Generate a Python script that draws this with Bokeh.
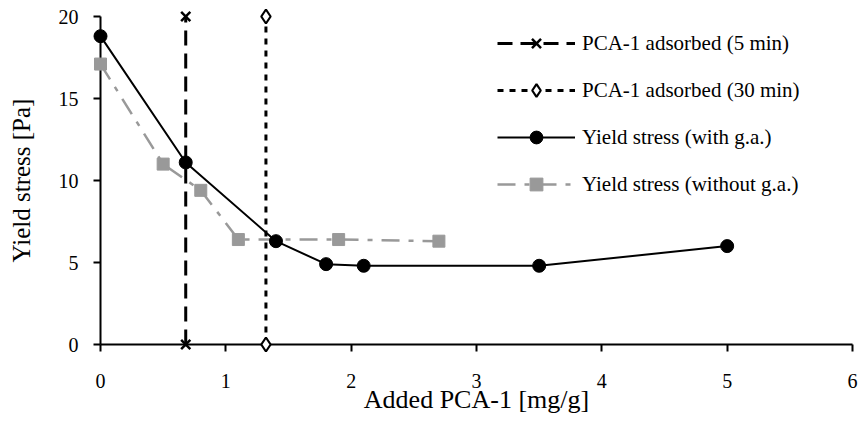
from bokeh.plotting import figure
from bokeh.models import Range1d, FixedTicker, Legend, LegendItem
from bokeh.embed import file_html
from bokeh.resources import INLINE

# ---- data ----
x_with = [0.0, 0.68, 1.4, 1.8, 2.1, 3.5, 5.0]
y_with = [18.8, 11.1, 6.3, 4.9, 4.8, 4.8, 6.0]
x_without = [0.0, 0.5, 0.8, 1.1, 1.9, 2.7]
y_without = [17.1, 11.0, 9.4, 6.4, 6.4, 6.3]
ads5_x = [0.68, 0.68]
ads5_y = [0.0, 20.0]
ads30_x = [1.32, 1.32]
ads30_y = [0.0, 20.0]
x_ticks = [0, 1, 2, 3, 4, 5, 6]
y_ticks = [0, 5, 10, 15, 20]
series_labels = ["PCA-1 adsorbed (5 min)", "PCA-1 adsorbed (30 min)",
                 "Yield stress (with g.a.)", "Yield stress (without g.a.)"]
x_title = "Added PCA-1 [mg/g]"
y_title = "Yield stress [Pa]"

FONT = "Liberation Serif"
GRAY = "#999999"

p = figure(width=861, height=423, output_backend="svg", toolbar_location=None,
           x_range=Range1d(0, 6), y_range=Range1d(0, 20),
           min_border_left=100, min_border_right=9, min_border_top=16, min_border_bottom=79)
p.outline_line_color = None
p.xgrid.visible = False
p.ygrid.visible = False
p.background_fill_color = "white"
p.border_fill_color = "white"

for ax in (p.xaxis[0], p.yaxis[0]):
    ax.axis_line_width = 2
    ax.axis_line_color = "black"
    ax.major_tick_line_width = 2
    ax.major_tick_line_color = "black"
    ax.major_tick_in = 0
    ax.major_tick_out = 7
    ax.minor_tick_line_color = None
    ax.major_label_text_font = FONT
    ax.major_label_text_font_size = "20px"
    ax.major_label_text_color = "black"
    ax.axis_label_text_font = FONT
    ax.axis_label_text_font_style = "normal"
    ax.axis_label_text_color = "black"

p.xaxis.axis_label_text_font_size = "26px"
p.yaxis.axis_label_text_font_size = "25px"
p.xaxis.ticker = FixedTicker(ticks=x_ticks)
p.yaxis.ticker = FixedTicker(ticks=y_ticks)
p.xaxis.axis_label = x_title
p.yaxis.axis_label = y_title
p.xaxis.major_label_standoff = 22
p.xaxis.axis_label_standoff = -6
p.yaxis.major_label_standoff = 15
p.yaxis.axis_label_standoff = 21

# gray series (without g.a.)
g_line = p.line(x_without, y_without, line_color=GRAY, line_width=2.5,
                line_dash="18 9 5 9", level="overlay")
g_pts = p.scatter(x_without, y_without, marker="square", size=12,
                  fill_color=GRAY, line_color=GRAY, level="overlay")

# vertical adsorption lines
a5_line = p.line(ads5_x, ads5_y, line_color="black", line_width=3,
                 line_dash="15 8", level="overlay")
a5_pts = p.scatter(ads5_x, ads5_y, marker="x", size=13, line_color="black",
                   line_width=2.5, level="overlay")
a30_line = p.line(ads30_x, ads30_y, line_color="black", line_width=3,
                  line_dash="6 6", level="overlay")
a30_pts = p.scatter(ads30_x, ads30_y, marker="diamond", size=14,
                    fill_color="white", line_color="black", line_width=2.2,
                    level="overlay")

# black series (with g.a.)
b_line = p.line(x_with, y_with, line_color="black", line_width=2, level="overlay")
b_pts = p.scatter(x_with, y_with, marker="circle", size=13, fill_color="black",
                  line_color="black", level="overlay")

legend = Legend(items=[
    LegendItem(label=series_labels[0], renderers=[a5_line, a5_pts]),
    LegendItem(label=series_labels[1], renderers=[a30_line, a30_pts]),
    LegendItem(label=series_labels[2], renderers=[b_line, b_pts]),
    LegendItem(label=series_labels[3], renderers=[g_line, g_pts]),
], location=(397, 144))
legend.border_line_color = None
legend.background_fill_alpha = 0
legend.padding = 0
legend.margin = 0
legend.glyph_width = 78
legend.glyph_height = 32
legend.label_height = 32
legend.spacing = 15
legend.label_standoff = 7
legend.label_text_font = FONT
legend.label_text_font_size = "21px"
legend.label_text_color = "black"
p.add_layout(legend)

open("out.html", "w").write(file_html(p, INLINE))
